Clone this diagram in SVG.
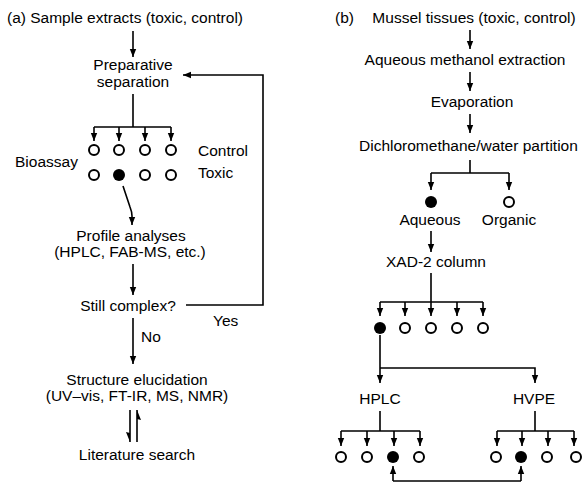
<svg xmlns="http://www.w3.org/2000/svg" width="582" height="483" viewBox="0 0 582 483">
  <defs>
    <style>
      text { font-family: "Liberation Sans", Arial, sans-serif; font-size: 15.5px; fill: #000; }
      .c { text-anchor: middle; }
      .ln { fill: none; stroke: #000; stroke-width: 1.6; }
      .open { fill: #fff; stroke: #000; stroke-width: 2; }
      .full { fill: #000; }
    </style>
    <marker id="ah" markerUnits="userSpaceOnUse" markerWidth="9" markerHeight="8" refX="8" refY="4" orient="auto">
      <path d="M0,0.8 L8,4 L0,7.2 Z" fill="#000"/>
    </marker>
  </defs>
  <rect width="582" height="483" fill="#fff"/>

  <!-- Panel (a): bioassay-guided fractionation -->
  <g id="a-start"><text x="7" y="23">(a)  Sample extracts (toxic, control)</text></g>
  <g id="a-prep"><text class="c" x="133" y="70">Preparative</text><text class="c" x="133" y="87">separation</text></g>
  <g id="a-bioassay"><text x="15" y="167">Bioassay</text></g>
  <g id="a-control">
    <circle class="open" cx="94" cy="150" r="5"/>
    <circle class="open" cx="119" cy="150" r="5"/>
    <circle class="open" cx="145" cy="150" r="5"/>
    <circle class="open" cx="171" cy="150" r="5"/>
    <text x="198" y="156">Control</text>
  </g>
  <g id="a-toxic">
    <circle class="open" cx="94" cy="175" r="5"/>
    <circle class="full" cx="119" cy="175" r="6"/>
    <circle class="open" cx="145" cy="175" r="5"/>
    <circle class="open" cx="171" cy="175" r="5"/>
    <text x="198" y="178">Toxic</text>
  </g>
  <g id="a-profile"><text class="c" x="131" y="241">Profile analyses</text><text class="c" x="130" y="257">(HPLC, FAB-MS, etc.)</text></g>
  <g id="a-complex"><text class="c" x="128" y="311">Still complex?</text></g>
  <g id="a-structure"><text class="c" x="137" y="385">Structure elucidation</text><text class="c" x="137" y="401">(UV–vis, FT-IR, MS, NMR)</text></g>
  <g id="a-literature"><text class="c" x="137" y="460">Literature search</text></g>

  <!-- Panel (b): mussel tissue workup -->
  <g id="b-start"><text x="335" y="23">(b)</text><text class="c" x="474" y="23">Mussel tissues (toxic, control)</text></g>
  <g id="b-extract"><text class="c" x="465" y="65">Aqueous methanol extraction</text></g>
  <g id="b-evap"><text class="c" x="472" y="107">Evaporation</text></g>
  <g id="b-partition"><text x="359" y="151">Dichloromethane/water partition</text></g>
  <g id="b-phases">
    <circle class="full" cx="431" cy="202" r="6"/>
    <circle class="open" cx="509" cy="202" r="5"/>
    <text class="c" x="430" y="225">Aqueous</text>
    <text class="c" x="509" y="225">Organic</text>
  </g>
  <g id="b-xad"><text class="c" x="436" y="267">XAD-2 column</text></g>
  <g id="b-xad-fractions">
    <circle class="full" cx="380" cy="328" r="6"/>
    <circle class="open" cx="405" cy="328" r="5"/>
    <circle class="open" cx="431" cy="328" r="5"/>
    <circle class="open" cx="457" cy="328" r="5"/>
    <circle class="open" cx="483" cy="328" r="5"/>
  </g>
  <g id="b-hplc"><text class="c" x="380" y="404">HPLC</text></g>
  <g id="b-hvpe"><text class="c" x="534" y="404">HVPE</text></g>
  <g id="b-hplc-fractions">
    <circle class="open" cx="341" cy="457" r="5"/>
    <circle class="open" cx="367" cy="457" r="5"/>
    <circle class="full" cx="393" cy="457" r="6"/>
    <circle class="open" cx="419" cy="457" r="5"/>
  </g>
  <g id="b-hvpe-fractions">
    <circle class="open" cx="496" cy="457" r="5"/>
    <circle class="full" cx="521" cy="457" r="6"/>
    <circle class="open" cx="547" cy="457" r="5"/>
    <circle class="open" cx="576" cy="457" r="5"/>
  </g>

  <g id="connectors">
    <!-- (a) -->
    <path class="ln" d="M133,31 V57" marker-end="url(#ah)"/>
    <path class="ln" d="M133,94 V127 M94,127 H171"/>
    <path class="ln" d="M94,127 V141" marker-end="url(#ah)"/>
    <path class="ln" d="M119,127 V141" marker-end="url(#ah)"/>
    <path class="ln" d="M145,127 V141" marker-end="url(#ah)"/>
    <path class="ln" d="M171,127 V141" marker-end="url(#ah)"/>
    <path class="ln" d="M123,186 L130,207 Q132,212 132,216 V225" marker-end="url(#ah)"/>
    <path class="ln" d="M133,264 V295" marker-end="url(#ah)"/>
    <path class="ln" d="M186,305 H263 V75 H183" marker-end="url(#ah)"/>
    <text x="213" y="326">Yes</text>
    <path class="ln" d="M133,318 V364" marker-end="url(#ah)"/>
    <text x="141" y="342">No</text>
    <path class="ln" d="M130,410 V442 M137,410 V442"/>
    <polygon points="130,442 126,432 130,433" fill="#000"/>
    <polygon points="137,410 141,420 137,419" fill="#000"/>
    <!-- (b) -->
    <path class="ln" d="M470,30 V49" marker-end="url(#ah)"/>
    <path class="ln" d="M470,72 V91" marker-end="url(#ah)"/>
    <path class="ln" d="M470,114 V133" marker-end="url(#ah)"/>
    <path class="ln" d="M470,160 V173 M431,173 H509"/>
    <path class="ln" d="M431,173 V190" marker-end="url(#ah)"/>
    <path class="ln" d="M509,173 V190" marker-end="url(#ah)"/>
    <path class="ln" d="M431,231 V252" marker-end="url(#ah)"/>
    <path class="ln" d="M431,273 V302 M380,302 H483"/>
    <path class="ln" d="M380,302 V316" marker-end="url(#ah)"/>
    <path class="ln" d="M405,302 V316" marker-end="url(#ah)"/>
    <path class="ln" d="M431,302 V316" marker-end="url(#ah)"/>
    <path class="ln" d="M457,302 V316" marker-end="url(#ah)"/>
    <path class="ln" d="M483,302 V316" marker-end="url(#ah)"/>
    <path class="ln" d="M380,335 V383" marker-end="url(#ah)"/>
    <path class="ln" d="M380,368 H535 V383" marker-end="url(#ah)"/>
    <path class="ln" d="M380,411 V431 M341,431 H420"/>
    <path class="ln" d="M341,431 V446" marker-end="url(#ah)"/>
    <path class="ln" d="M367,431 V446" marker-end="url(#ah)"/>
    <path class="ln" d="M394,431 V446" marker-end="url(#ah)"/>
    <path class="ln" d="M420,431 V446" marker-end="url(#ah)"/>
    <path class="ln" d="M535,411 V431 M497,431 H574"/>
    <path class="ln" d="M497,431 V446" marker-end="url(#ah)"/>
    <path class="ln" d="M522,431 V446" marker-end="url(#ah)"/>
    <path class="ln" d="M548,431 V446" marker-end="url(#ah)"/>
    <path class="ln" d="M574,431 V446" marker-end="url(#ah)"/>
    <path class="ln" d="M393,481 V466" marker-end="url(#ah)"/>
    <path class="ln" d="M521,481 V466" marker-end="url(#ah)"/>
    <path class="ln" d="M393,481 H521"/>
  </g>
</svg>
